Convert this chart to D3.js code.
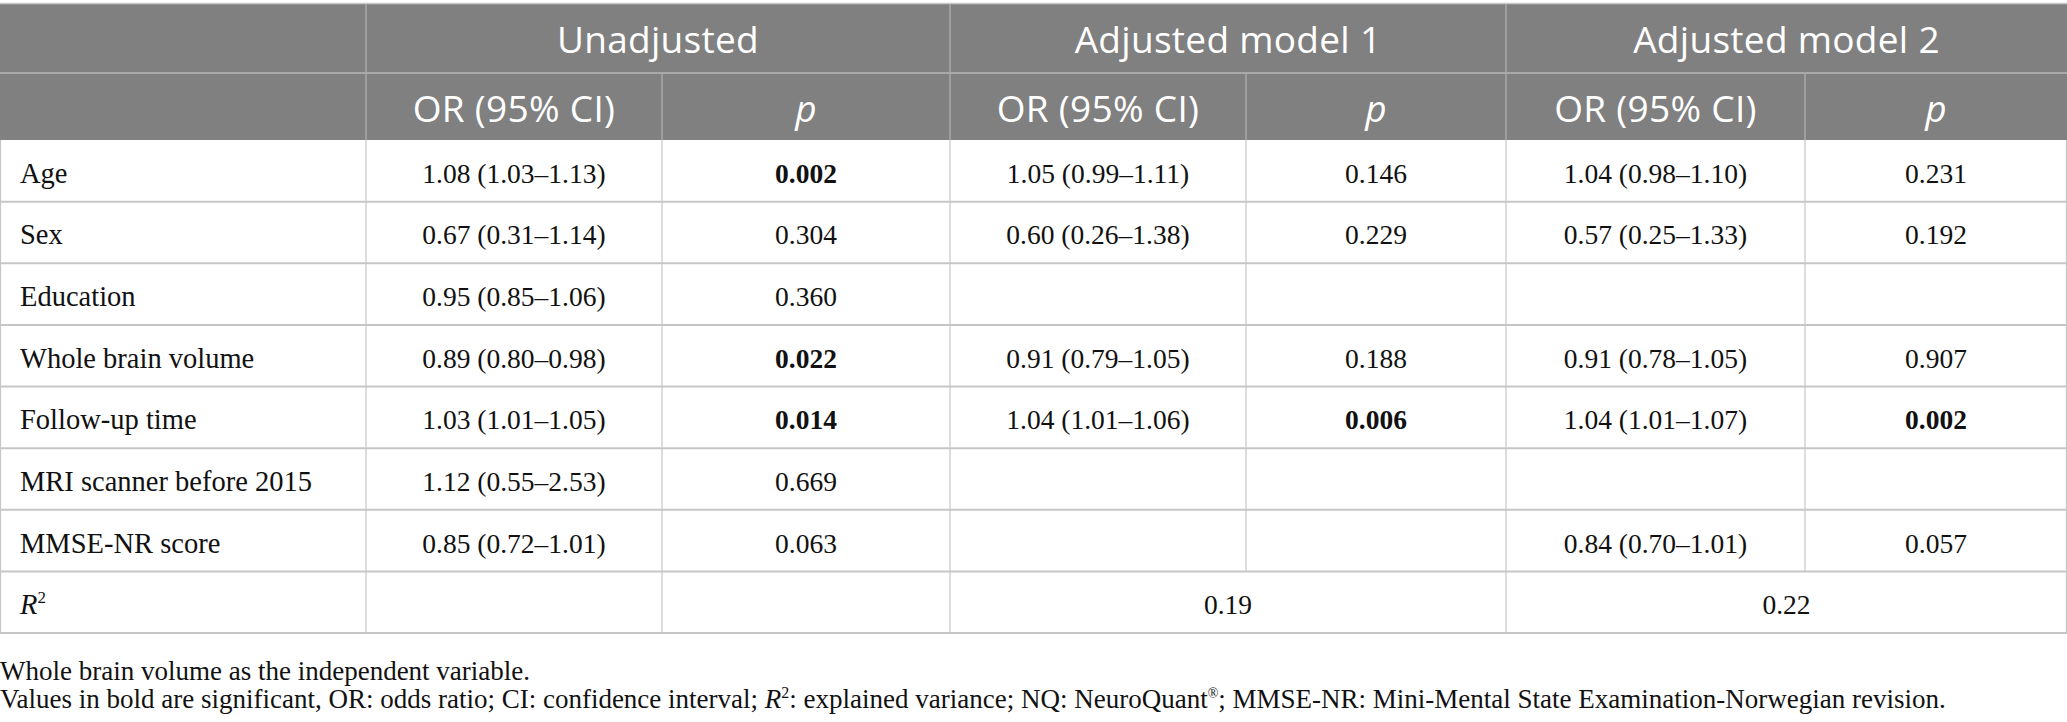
<!DOCTYPE html>
<html>
<head>
<meta charset="utf-8">
<script src="https://cdn.jsdelivr.net/npm/d3@7"></script>
<style>
  html, body { margin: 0; padding: 0; background: #fff; }
  svg { display: block; }
</style>
</head>
<body>
<div id="table"></div>
<script>
// table values
const models = ["Unadjusted", "Adjusted model 1", "Adjusted model 2"];
const variables = ["Age", "Sex", "Education", "Whole brain volume", "Follow-up time",
  "MRI scanner before 2015", "MMSE-NR score"];

const unadjustedOR = ["1.08 (1.03–1.13)", "0.67 (0.31–1.14)", "0.95 (0.85–1.06)", "0.89 (0.80–0.98)",
  "1.03 (1.01–1.05)", "1.12 (0.55–2.53)", "0.85 (0.72–1.01)"];
const unadjustedP = [0.002, 0.304, 0.360, 0.022, 0.014, 0.669, 0.063];

const model1OR = ["1.05 (0.99–1.11)", "0.60 (0.26–1.38)", null, "0.91 (0.79–1.05)",
  "1.04 (1.01–1.06)", null, null];
const model1P = [0.146, 0.229, null, 0.188, 0.006, null, null];

const model2OR = ["1.04 (0.98–1.10)", "0.57 (0.25–1.33)", null, "0.91 (0.78–1.05)",
  "1.04 (1.01–1.07)", null, "0.84 (0.70–1.01)"];
const model2P = [0.231, 0.192, null, 0.907, 0.002, null, 0.057];

const rSquared = [null, 0.19, 0.22];

const footnote1 = "Whole brain volume as the independent variable.";

width = 2067;
height = 722;

const fmtP = d3.format(".3f");
const fmtR = d3.format(".2f");

// column edges: label | OR p | OR p | OR p
const xEdges = [0, 366, 662, 950, 1246, 1506, 1805, 2067];
const headTop = 4, headMid = 73, headBottom = 140, tableBottom = 633;

const serif = "'Liberation Serif', 'Times New Roman', serif";
const sans = "'Open Sans', 'Noto Sans', sans-serif";

const svg = d3.select("#table")
  .append("svg")
  .attr("width", width)
  .attr("height", height)
  .attr("viewBox", [0, 0, width, height]);

const rowKeys = variables.concat(["R2"]);
const y = d3.scaleBand()
  .domain(rowKeys)
  .range([headBottom, tableBottom]);

const col = d3.scaleOrdinal()
  .domain(["label", "or0", "p0", "or1", "p1", "or2", "p2"])
  .range(d3.range(7));
const left = k => xEdges[col(k)];
const right = k => xEdges[col(k) + 1];
const mid = k => (left(k) + right(k)) / 2;

// header
svg.append("rect")
  .attr("x", 0).attr("y", headTop)
  .attr("width", width).attr("height", headBottom - headTop)
  .attr("fill", "#808080");

svg.append("line")
  .attr("x1", 0).attr("x2", width)
  .attr("y1", headTop - 0.5).attr("y2", headTop - 0.5)
  .attr("stroke", "#c9c9c9").attr("stroke-width", 1.5);

svg.append("line")
  .attr("x1", 0).attr("x2", width)
  .attr("y1", headMid).attr("y2", headMid)
  .attr("stroke", "#a9a9a9").attr("stroke-width", 2);

[1, 3, 5].forEach(i => {
  svg.append("line")
    .attr("x1", xEdges[i]).attr("x2", xEdges[i])
    .attr("y1", headTop).attr("y2", headBottom)
    .attr("stroke", "#a9a9a9").attr("stroke-width", 1.5);
});
[2, 4, 6].forEach(i => {
  svg.append("line")
    .attr("x1", xEdges[i]).attr("x2", xEdges[i])
    .attr("y1", headMid).attr("y2", headBottom)
    .attr("stroke", "#a9a9a9").attr("stroke-width", 1.5);
});

svg.selectAll("text.model")
  .data(models)
  .join("text")
  .attr("class", "model")
  .attr("x", (d, i) => (xEdges[1 + 2 * i] + xEdges[3 + 2 * i]) / 2)
  .attr("y", 53)
  .attr("text-anchor", "middle")
  .attr("fill", "#fff")
  .style("font", `37px ${sans}`)
  .style("letter-spacing", "0.3px")
  .text(d => d);

models.forEach((m, i) => {
  svg.append("text")
    .attr("x", mid("or" + i)).attr("y", 122)
    .attr("text-anchor", "middle")
    .attr("fill", "#fff")
    .style("font", `37px ${sans}`)
    .style("letter-spacing", "0.3px")
    .text("OR (95% CI)");
  svg.append("text")
    .attr("x", mid("p" + i)).attr("y", 122)
    .attr("text-anchor", "middle")
    .attr("fill", "#fff")
    .style("font", `italic 37px ${sans}`)
    .text("p");
});

// body grid
const lineColor = "#c6c6c6";
rowKeys.forEach(k => {
  svg.append("line")
    .attr("x1", 0).attr("x2", width)
    .attr("y1", y(k) + y.bandwidth()).attr("y2", y(k) + y.bandwidth())
    .attr("stroke", lineColor).attr("stroke-width", 2);
});
xEdges.forEach((x, i) => {
  const xx = i === 0 ? 0.5 : (i === xEdges.length - 1 ? width - 0.5 : x);
  const merged = i === 4 || i === 6;   // R2 cells span both columns of a model
  svg.append("line")
    .attr("x1", xx).attr("x2", xx)
    .attr("y1", headBottom)
    .attr("y2", merged ? y("R2") : tableBottom)
    .attr("stroke", lineColor).attr("stroke-width", 1.2);
});

// body cells
const orCols = [unadjustedOR, model1OR, model2OR];
const pCols = [unadjustedP, model1P, model2P];
const baseline = k => y(k) + y.bandwidth() / 2 + 12;
const cellFont = "27.5px " + serif;

svg.selectAll("text.label")
  .data(variables)
  .join("text")
  .attr("class", "label")
  .attr("x", 20)
  .attr("y", d => baseline(d))
  .attr("fill", "#111")
  .style("font", `28.5px ${serif}`)
  .text(d => d);

orCols.forEach((vals, m) => {
  svg.selectAll("text.or" + m)
    .data(variables.map((v, i) => ({ v, val: vals[i] })).filter(d => d.val != null))
    .join("text")
    .attr("class", "or" + m)
    .attr("x", mid("or" + m))
    .attr("y", d => baseline(d.v))
    .attr("text-anchor", "middle")
    .attr("fill", "#111")
    .style("font", cellFont)
    .text(d => d.val);
});

pCols.forEach((vals, m) => {
  svg.selectAll("text.p" + m)
    .data(variables.map((v, i) => ({ v, val: vals[i] })).filter(d => d.val != null))
    .join("text")
    .attr("class", "p" + m)
    .attr("x", mid("p" + m))
    .attr("y", d => baseline(d.v))
    .attr("text-anchor", "middle")
    .attr("fill", "#111")
    .style("font", d => (d.val < 0.05 ? "bold " : "") + cellFont)
    .text(d => fmtP(d.val));
});

// R2 row
const r2 = svg.append("text")
  .attr("x", 20).attr("y", baseline("R2"))
  .attr("fill", "#111")
  .style("font", `28.5px ${serif}`);
r2.append("tspan").style("font-style", "italic").text("R");
r2.append("tspan").attr("dy", -11).style("font-size", "17px").text("2");

rSquared.forEach((v, m) => {
  if (v == null) return;
  svg.append("text")
    .attr("x", (left("or" + m) + right("p" + m)) / 2)
    .attr("y", baseline("R2"))
    .attr("text-anchor", "middle")
    .attr("fill", "#111")
    .style("font", cellFont)
    .text(fmtR(v));
});

// footnotes
svg.append("text")
  .attr("x", 0).attr("y", 680)
  .attr("fill", "#111")
  .style("font", `27px ${serif}`)
  .text(footnote1);

const fn2 = svg.append("text")
  .attr("x", 0).attr("y", 708)
  .attr("fill", "#111")
  .style("font", `27px ${serif}`);
fn2.append("tspan").text("Values in bold are significant, OR: odds ratio; CI: confidence interval; ");
fn2.append("tspan").style("font-style", "italic").text("R");
fn2.append("tspan").attr("dy", -10).style("font-size", "16px").text("2");
fn2.append("tspan").attr("dy", 10).text(": explained variance; NQ: NeuroQuant");
fn2.append("tspan").attr("dy", -10).style("font-size", "14px").text("®");
fn2.append("tspan").attr("dy", 10).text("; MMSE-NR: Mini-Mental State Examination-Norwegian revision.");
</script>
</body>
</html>
